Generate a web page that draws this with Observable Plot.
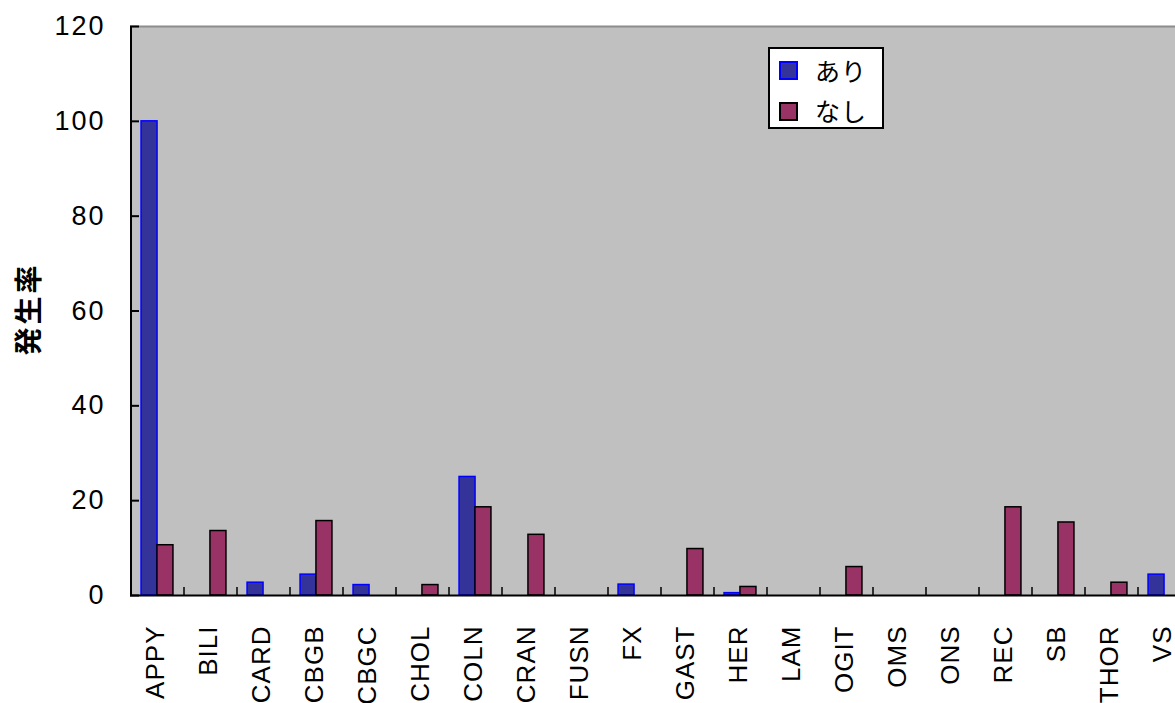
<!DOCTYPE html>
<html><head><meta charset="utf-8">
<script src="https://cdn.jsdelivr.net/npm/d3@7"></script>
<script src="https://cdn.jsdelivr.net/npm/@observablehq/plot@0.6"></script>
<style>
html,body{margin:0;padding:0;background:#fff;overflow:hidden;width:1175px;height:703px;}
#wrap{position:relative;width:1175px;height:703px;overflow:hidden;}
#wrap svg{max-width:none !important;position:absolute;left:0;top:0;}
#wrap svg g[aria-label="x-axis tick label"] text{letter-spacing:1px;}
#wrap svg g[aria-label="y-axis tick label"] text{letter-spacing:2px;}
#wrap svg g[aria-label="text"] text{letter-spacing:3px;}
.legend{position:absolute;left:768px;top:47px;width:116px;height:82px;box-sizing:border-box;background:#fff;border:2px solid #000;font-family:"Noto Sans CJK JP",sans-serif;font-size:25px;color:#000;}
.legend .sw{position:absolute;left:9px;width:19px;height:19px;box-sizing:border-box;}
.legend .lb{position:absolute;left:45px;line-height:26px;letter-spacing:1px;}
</style></head>
<body><div id="wrap"></div>
<script>
const categories = ["APPY","BILI","CARD","CBGB","CBGC","CHOL","COLN","CRAN","FUSN","FX","GAST","HER","LAM","OGIT","OMS","ONS","REC","SB","THOR","VS"];
const seriesNames = ["あり","なし"];
const ariValues   = [100, 0, 2.7, 4.4, 2.2, 0, 25, 0, 0, 2.3, 0, 0.5, 0, 0, 0, 0, 0, 0, 0, 4.4];
const nashiValues = [10.6, 13.6, 0, 15.7, 0, 2.2, 18.6, 12.8, 0, 0, 9.8, 1.8, 0, 6.0, 0, 0, 18.6, 15.4, 2.7, 0];
const yTicks = [0, 20, 40, 60, 80, 100, 120];

const W = 1190, H = 703, ML = 130, MR = 0, MT = 26, MB = 108;
const step = (W - ML - MR) / categories.length;
const bw = step * 0.3;
const plotH = H - MT - MB;

const ari = categories.map((c, i) => ({cat: c, v: ariValues[i]})).filter(d => d.v > 0);
const nashi = categories.map((c, i) => ({cat: c, v: nashiValues[i]})).filter(d => d.v > 0);

const font = "'Liberation Sans', Arial, sans-serif";

const chart = Plot.plot({
  width: W, height: H,
  marginLeft: ML, marginRight: MR, marginTop: MT, marginBottom: MB,
  style: {fontFamily: font, background: "#fff", maxWidth: "none"},
  x: {domain: categories, paddingInner: 0.7, paddingOuter: 0.35, axis: null},
  y: {domain: [0, 120], axis: null},
  marks: [
    Plot.frame({fill: "#c0c0c0", stroke: null}),
    Plot.ruleY([120], {stroke: "#8c8c8c", strokeWidth: 2}),
    Plot.barY(ari, {x: "cat", y: "v", fill: "#333399", stroke: "#0000ff", strokeWidth: 1.5, dx: -bw / 2}),
    Plot.barY(nashi, {x: "cat", y: "v", fill: "#993366", stroke: "#000", strokeWidth: 1.5, dx: bw / 2}),
    Plot.ruleY([0], {stroke: "#000", strokeWidth: 2}),
    Plot.ruleX([categories[0]], {dx: -step / 2, stroke: "#000", strokeWidth: 2}),
    Plot.tickY(yTicks, {y: d => d, stroke: "#000", strokeWidth: 2, insetRight: (W - ML - MR) - 9}),
    Plot.tickX(categories, {x: d => d, dx: -step / 2, stroke: "#000", strokeWidth: 1.5, insetTop: plotH - 8}),
    Plot.axisY({ticks: yTicks, tickSize: 0, tickPadding: 25, fontSize: 27, fill: "#000", label: null}),
    Plot.axisX({tickSize: 0, tickRotate: -90, tickPadding: 30, dx: -2, fontSize: 26, fill: "#000", label: null}),
    Plot.text(["発生率"], {text: d => d, frameAnchor: "left", textAnchor: "middle", dx: -100, dy: -2, rotate: -90, fontSize: 28, fontWeight: "bold", fill: "#000", fontFamily: "'Noto Sans CJK JP', sans-serif"})
  ]
});
const wrap = document.getElementById("wrap");
wrap.appendChild(chart);

const colors = {"あり": ["#333399", "#0000ff"], "なし": ["#993366", "#000"]};
const legend = document.createElement("div");
legend.className = "legend";
seriesNames.forEach((s, i) => {
  const sw = document.createElement("div");
  sw.className = "sw";
  sw.style.top = (12 + i * 41) + "px";
  sw.style.background = colors[s][0];
  sw.style.border = "2px solid " + colors[s][1];
  const lb = document.createElement("div");
  lb.className = "lb";
  lb.style.top = (8 + i * 40) + "px";
  lb.textContent = s;
  legend.appendChild(sw);
  legend.appendChild(lb);
});
wrap.appendChild(legend);
</script>
</body></html>
